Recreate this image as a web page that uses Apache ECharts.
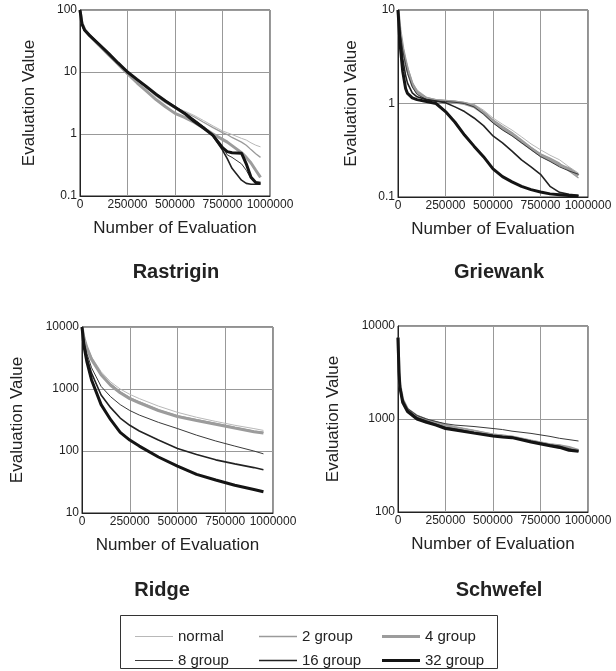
<!DOCTYPE html>
<html>
<head>
<meta charset="utf-8">
<script src="https://cdn.jsdelivr.net/npm/echarts@6/dist/echarts.min.js"></script>
<style>
html,body{margin:0;padding:0;background:#fff;}
#c{width:616px;height:671px;}
</style>
</head>
<body>
<div id="c"></div>
<script>
const seriesNames = ['normal', '2 group', '4 group', '8 group', '16 group', '32 group'];
const panelTitles = ['Rastrigin', 'Griewank', 'Ridge', 'Schwefel'];
const xTicks = [0, 250000, 500000, 750000, 1000000];

// Rastrigin
const rastX = [0, 10000, 25000, 50000, 100000, 150000, 200000, 250000, 300000, 350000, 400000, 450000, 500000, 550000, 600000, 650000, 700000, 750000, 775000, 800000, 850000, 875000, 900000, 925000, 950000];
const rastNormal = [100, 65, 50, 41, 29, 20.5, 14.5, 10.3, 7.6, 5.6, 4.2, 3.3, 2.7, 2.35, 2.0, 1.65, 1.35, 1.12, 1.05, 0.98, 0.85, 0.8, 0.72, 0.66, 0.62];
const rast2 = [100, 64, 49, 40, 28.5, 20, 14.2, 10.1, 7.4, 5.5, 4.1, 3.2, 2.6, 2.25, 1.9, 1.55, 1.27, 1.05, 0.98, 0.88, 0.74, 0.66, 0.56, 0.48, 0.42];
const rast4 = [100, 62, 48, 39, 27, 19, 13.5, 9.4, 6.7, 4.9, 3.6, 2.75, 2.15, 1.85, 1.55, 1.25, 1.0, 0.82, 0.74, 0.65, 0.5, 0.42, 0.34, 0.26, 0.2];
const rast8 = [100, 60, 47, 39, 28, 20, 14, 10.2, 7.6, 5.8, 4.3, 3.4, 2.7, 2.2, 1.7, 1.3, 0.95, 0.62, 0.46, 0.42, 0.33, 0.26, 0.19, 0.165, 0.16];
const rast16 = [100, 58, 46, 39, 28, 20, 14, 10, 7.5, 5.7, 4.3, 3.4, 2.75, 2.2, 1.7, 1.3, 0.92, 0.55, 0.4, 0.28, 0.18, 0.16, 0.155, 0.155, 0.155];
const rast32 = [100, 60, 47, 39, 28, 20, 14, 10, 7.6, 5.8, 4.4, 3.4, 2.7, 2.15, 1.6, 1.25, 0.95, 0.6, 0.52, 0.5, 0.49, 0.33, 0.2, 0.165, 0.16];

// Griewank
const griX = [0, 10000, 25000, 40000, 50000, 75000, 100000, 150000, 200000, 250000, 300000, 350000, 400000, 450000, 500000, 550000, 600000, 650000, 700000, 750000, 800000, 850000, 900000, 950000];
const griNormal = [10, 6.5, 4.2, 3.0, 2.5, 1.7, 1.4, 1.17, 1.1, 1.08, 1.06, 1.03, 0.98, 0.85, 0.7, 0.6, 0.52, 0.44, 0.37, 0.32, 0.28, 0.25, 0.21, 0.18];
const gri2 = [10, 6.3, 4.0, 2.9, 2.4, 1.65, 1.35, 1.15, 1.09, 1.07, 1.05, 1.02, 0.96, 0.82, 0.67, 0.57, 0.49, 0.41, 0.34, 0.29, 0.26, 0.23, 0.19, 0.16];
const gri4 = [10, 6.2, 3.9, 2.8, 2.3, 1.6, 1.32, 1.13, 1.08, 1.06, 1.04, 1.0, 0.93, 0.79, 0.64, 0.54, 0.47, 0.39, 0.33, 0.28, 0.25, 0.22, 0.2, 0.17];
const gri8 = [10, 6.0, 3.7, 2.6, 2.1, 1.5, 1.25, 1.1, 1.06, 1.05, 1.03, 1.0, 0.92, 0.77, 0.62, 0.52, 0.45, 0.38, 0.32, 0.27, 0.24, 0.21, 0.19, 0.175];
const gri16 = [10, 5.5, 3.0, 2.0, 1.65, 1.3, 1.18, 1.1, 1.06, 1.02, 0.92, 0.82, 0.7, 0.58, 0.45, 0.38, 0.31, 0.25, 0.21, 0.175, 0.13, 0.112, 0.107, 0.104];
const gri32 = [10, 4.5, 2.2, 1.45, 1.28, 1.15, 1.1, 1.05, 1.0, 0.82, 0.63, 0.46, 0.35, 0.27, 0.2, 0.165, 0.145, 0.13, 0.12, 0.113, 0.108, 0.106, 0.104, 0.102];

// Ridge
const ridX = [0, 10000, 25000, 50000, 100000, 150000, 200000, 250000, 300000, 400000, 500000, 600000, 700000, 800000, 900000, 950000];
const ridNormal = [10000, 7000, 5000, 3300, 1900, 1300, 1000, 820, 700, 530, 420, 350, 300, 260, 230, 215];
const rid2 = [10000, 6800, 4800, 3100, 1750, 1200, 900, 730, 620, 460, 370, 320, 280, 240, 210, 200];
const rid4 = [10000, 6700, 4700, 3000, 1700, 1150, 870, 700, 600, 450, 360, 310, 270, 235, 205, 195];
const rid8 = [10000, 6000, 3800, 2200, 1100, 750, 560, 450, 380, 290, 230, 180, 145, 120, 100, 90];
const rid16 = [10000, 5500, 3300, 1800, 800, 500, 340, 260, 210, 150, 110, 88, 72, 62, 54, 50];
const rid32 = [10000, 5000, 2800, 1400, 560, 320, 200, 150, 120, 80, 57, 42, 34, 28, 24, 22];

// Schwefel
const schX = [0, 5000, 10000, 25000, 50000, 100000, 150000, 200000, 250000, 300000, 400000, 500000, 550000, 600000, 700000, 800000, 850000, 900000, 950000];
const schNormal = [7500, 3500, 2400, 1650, 1300, 1100, 1000, 940, 870, 830, 760, 690, 675, 650, 590, 535, 520, 495, 465];
const sch2 = [7500, 3400, 2300, 1600, 1280, 1080, 990, 930, 860, 820, 750, 680, 665, 645, 585, 535, 525, 490, 455];
const sch4 = [7500, 3400, 2300, 1600, 1270, 1070, 980, 910, 850, 800, 735, 675, 655, 640, 580, 530, 515, 495, 460];
const sch8 = [7500, 3500, 2400, 1650, 1300, 1090, 1000, 940, 890, 860, 830, 790, 770, 740, 700, 650, 620, 600, 580];
const sch16 = [7500, 3300, 2200, 1550, 1250, 1030, 950, 880, 810, 780, 715, 665, 645, 635, 575, 525, 510, 475, 450];
const sch32 = [7500, 3200, 2200, 1500, 1200, 1000, 920, 860, 790, 760, 705, 655, 640, 630, 565, 515, 495, 460, 450];

const panels = [
  {x: rastX, ys: [rastNormal, rast2, rast4, rast8, rast16, rast32], min: 0.1, max: 100},
  {x: griX, ys: [griNormal, gri2, gri4, gri8, gri16, gri32], min: 0.1, max: 10},
  {x: ridX, ys: [ridNormal, rid2, rid4, rid8, rid16, rid32], min: 10, max: 10000},
  {x: schX, ys: [schNormal, sch2, sch4, sch8, sch16, sch32], min: 100, max: 10000}
];

// layout / styling
const grids = [
  {left: 80, top: 10, width: 190, height: 186, yGap: 42},
  {left: 398, top: 10, width: 190, height: 187, yGap: 38},
  {left: 82, top: 327, width: 191, height: 186, yGap: 56},
  {left: 398, top: 326, width: 190, height: 186, yGap: 56}
];
const titlePos = [[176, 272], [499, 272], [162, 590], [499, 590]];
const lineStyles = [
  {color: '#b8b8b8', width: 1},
  {color: '#9a9a9a', width: 1.3},
  {color: '#9c9c9c', width: 3},
  {color: '#3a3a3a', width: 1},
  {color: '#222222', width: 1.6},
  {color: '#141414', width: 3}
];
const FONT = '"Liberation Sans", Arial, sans-serif';
const TXT = '#222';

const option = {
  animation: false,
  backgroundColor: '#fff',
  textStyle: {fontFamily: FONT},
  grid: grids.map(g => ({left: g.left, top: g.top, width: g.width, height: g.height, show: true, borderColor: '#222', borderWidth: 1, backgroundColor: 'transparent'})),
  xAxis: grids.map((g, i) => ({
    type: 'value', gridIndex: i, min: 0, max: 1000000, interval: 250000,
    name: 'Number of Evaluation', nameLocation: 'middle', nameGap: 24,
    nameTextStyle: {fontSize: 17, color: TXT, fontFamily: FONT},
    axisLine: {show: true, lineStyle: {color: '#222', width: 1}},
    axisTick: {show: false},
    axisLabel: {fontSize: 12, color: TXT, margin: 3, fontFamily: FONT,
      showMinLabel: true, showMaxLabel: true, hideOverlap: false,
      formatter: v => String(Math.round(v))},
    splitLine: {show: true, lineStyle: {color: '#999', width: 1}}
  })),
  yAxis: grids.map((g, i) => ({
    type: 'log', logBase: 10, gridIndex: i, min: panels[i].min, max: panels[i].max,
    name: 'Evaluation Value', nameLocation: 'middle', nameGap: g.yGap, nameRotate: 90,
    nameTextStyle: {fontSize: 17, color: TXT, fontFamily: FONT},
    axisLine: {show: true, lineStyle: {color: '#222', width: 1}},
    axisTick: {show: false},
    axisLabel: {fontSize: 12, color: TXT, margin: 3, fontFamily: FONT,
      showMinLabel: true, showMaxLabel: true,
      formatter: v => String(parseFloat(Number(v).toPrecision(6)))},
    splitLine: {show: true, lineStyle: {color: '#999', width: 1}}
  })),
  legend: seriesNames.map((n, k) => ({
    data: [n],
    left: [130, 254, 377][k % 3],
    top: k < 3 ? 624 : 648,
    icon: 'rect',
    itemWidth: 38, itemHeight: lineStyles[k].width,
    itemStyle: {color: lineStyles[k].color, borderWidth: 0},
    itemGap: 0,
    textStyle: {fontSize: 15, color: TXT, fontFamily: FONT},
    selectedMode: false
  })),
  series: [],
  graphic: [
    {type: 'rect', shape: {x: 120.5, y: 615.5, width: 377, height: 53}, style: {fill: 'none', stroke: '#333', lineWidth: 1}, silent: true}
  ].concat(panelTitles.map((t, i) => ({
    type: 'text', x: titlePos[i][0], y: titlePos[i][1], silent: true,
    style: {text: t, fontSize: 20, fontWeight: 'bold', fill: TXT, fontFamily: FONT, textAlign: 'center', textVerticalAlign: 'middle'}
  })))
};

panels.forEach((p, i) => {
  p.ys.forEach((ys, k) => {
    option.series.push({
      name: seriesNames[k], type: 'line', xAxisIndex: i, yAxisIndex: i,
      data: p.x.map((x, j) => [x, ys[j]]),
      showSymbol: false, symbol: 'none',
      lineStyle: {color: lineStyles[k].color, width: lineStyles[k].width},
      itemStyle: {color: lineStyles[k].color},
      z: 2 + k
    });
  });
});

const chart = echarts.init(document.getElementById('c'), null, {renderer: 'canvas'});
chart.setOption(option);
</script>
</body>
</html>
